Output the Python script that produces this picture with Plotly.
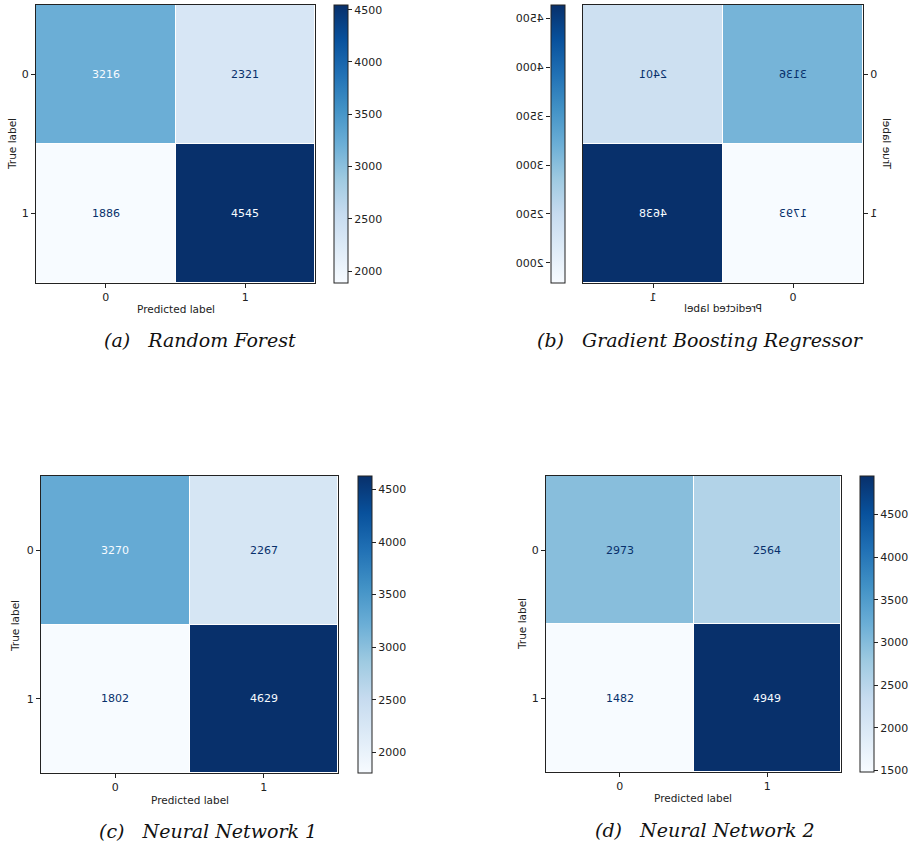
import plotly.graph_objects as go
import plotly.express as px

# Confusion matrices (rows: true label, columns: predicted label)
labels = ["0", "1"]
rf_cm = [[3216, 2321], [1886, 4545]]
gbr_cm = [[3136, 2401], [1793, 4638]]
nn1_cm = [[3270, 2267], [1802, 4629]]
nn2_cm = [[2973, 2564], [1482, 4949]]
captions = [
    "(a)\u00a0\u00a0\u00a0Random Forest",
    "(b)\u00a0\u00a0\u00a0Gradient Boosting Regressor",
    "(c)\u00a0\u00a0\u00a0Neural Network 1",
    "(d)\u00a0\u00a0\u00a0Neural Network 2",
]

W, H = 916, 849
BLUES = px.colors.sequential.Blues
DARK, LIGHT = "#08306b", "#f7fbff"
INK = "#222222"
SANS = "DejaVu Sans"


def px_x(a, b):
    return [a / W, b / W]


def px_y(top, bottom):
    return [1 - bottom / H, 1 - top / H]


# pixel boxes: heatmap (x0, x1, y0, y1), colorbar x0, axis-title anchors, caption anchor
panels = [
    dict(cm=rf_cm, box=(36, 315, 5, 283), cb=334, ylab=(12, 144), xlab=(176, 309),
         cap=(200, 340), flip=False),
    dict(cm=gbr_cm, box=(583, 863, 5, 283), cb=551, ylab=(887, 144), xlab=(723, 308),
         cap=(700, 340), flip=True),
    dict(cm=nn1_cm, box=(41, 338, 476, 773), cb=358, ylab=(15, 626), xlab=(190, 800),
         cap=(208, 831), flip=False),
    dict(cm=nn2_cm, box=(546, 841, 476, 772), cb=860, ylab=(522, 624), xlab=(693, 798),
         cap=(705, 830), flip=False),
]

fig = go.Figure()
annotations = []

for i, p in enumerate(panels):
    n = i + 1
    xa, ya = ("x" if n == 1 else f"x{n}"), ("y" if n == 1 else f"y{n}")
    x0, x1, y0, y1 = p["box"]
    cm = p["cm"]
    flat = [v for row in cm for v in row]
    zmin, zmax = min(flat), max(flat)
    thresh = (zmin + zmax) / 2

    fig.add_trace(go.Heatmap(
        z=cm, x=[0, 1], y=[0, 1], xaxis=xa, yaxis=ya,
        colorscale=BLUES, zmin=zmin, zmax=zmax, xgap=1, ygap=1,
        hoverinfo="skip",
        colorbar=dict(
            x=p["cb"] / W, xanchor="left", xpad=0, ypad=0,
            y=1 - (y0 + y1) / 2 / H, yanchor="middle",
            len=(y1 - y0) / H, lenmode="fraction",
            thickness=14, thicknessmode="pixels",
            outlinewidth=1, outlinecolor=INK,
            tick0=0, dtick=500,
            ticks="" if p["flip"] else "outside", ticklen=4, tickwidth=1, tickcolor=INK,
            showticklabels=not p["flip"],
            tickfont=dict(family=SANS, size=11, color=INK),
        ),
    ))

    axis_common = dict(
        showline=True, mirror=True, linecolor=INK, linewidth=1,
        ticks="outside", ticklen=4, tickwidth=1, tickcolor=INK,
        showgrid=False, zeroline=False, fixedrange=True,
        tickmode="array", tickvals=[0, 1], ticktext=labels,
        tickfont=dict(family=SANS, size=11, color=INK),
    )
    fig.update_layout(**{
        ("xaxis" if n == 1 else f"xaxis{n}"): dict(
            axis_common, domain=px_x(x0, x1), anchor=ya,
            range=[1.5, -0.5] if p["flip"] else [-0.5, 1.5]),
        ("yaxis" if n == 1 else f"yaxis{n}"): dict(
            axis_common, domain=px_y(y0, y1), anchor=xa, range=[1.5, -0.5],
            side="right" if p["flip"] else "left"),
    })

    tag = "mirror" if p["flip"] else None
    # cell counts
    for r in range(2):
        for c in range(2):
            v = cm[r][c]
            annotations.append(dict(
                x=c, y=r, xref=xa, yref=ya, text=str(v), showarrow=False,
                font=dict(family=SANS, size=11, color=LIGHT if v > thresh else DARK),
                name=tag,
            ))
    # axis titles
    annotations.append(dict(
        x=p["ylab"][0] / W, y=1 - p["ylab"][1] / H, xref="paper", yref="paper",
        text="True label", textangle=-90, showarrow=False,
        xanchor="center", yanchor="middle",
        font=dict(family=SANS, size=10.5, color=INK), name=tag,
    ))
    annotations.append(dict(
        x=p["xlab"][0] / W, y=1 - p["xlab"][1] / H, xref="paper", yref="paper",
        text="Predicted label", showarrow=False,
        xanchor="center", yanchor="middle",
        font=dict(family=SANS, size=10.5, color=INK), name=tag,
    ))
    # caption
    annotations.append(dict(
        x=p["cap"][0] / W, y=1 - p["cap"][1] / H, xref="paper", yref="paper",
        text=f"<i>{captions[i]}</i>", showarrow=False,
        xanchor="center", yanchor="middle",
        font=dict(family="DejaVu Serif", size=19, color="#111111"),
    ))

    if p["flip"]:
        # tick labels for the left-hand colour bar of panel (b)
        cbx0 = p["cb"]
        fig.add_trace(go.Scatter(
            x=[0.5] * len(flat), y=flat, xaxis="x5", yaxis="y5",
            mode="markers", marker=dict(opacity=0), hoverinfo="skip", showlegend=False,
        ))
        fig.update_layout(
            xaxis5=dict(domain=px_x(cbx0, cbx0 + 14), anchor="y5", range=[0, 1],
                        visible=False, fixedrange=True),
            yaxis5=dict(domain=px_y(y0, y1), anchor="x5", range=[zmin, zmax],
                        side="left", tick0=0, dtick=500, ticks="outside", ticklen=4,
                        tickwidth=1, tickcolor=INK, showline=False, showgrid=False,
                        zeroline=False, fixedrange=True,
                        tickfont=dict(family=SANS, size=11, color=INK)),
        )

fig.update_layout(
    width=W, height=H, margin=dict(l=0, r=0, t=0, b=0),
    paper_bgcolor="white", plot_bgcolor="white",
    template="none", showlegend=False,
    font=dict(family=SANS, color=INK),
    annotations=annotations,
)

# panel (b) is shown mirrored left-to-right, including its text
mirror_js = """
var gd = document.getElementById('{plot_id}');
function mirror(el) {
  if (!el) return;
  var r = el.getBoundingClientRect();
  var cx = r.left + r.width / 2;
  var P = DOMMatrix.fromMatrix(el.parentNode.getScreenCTM());
  var F = new DOMMatrix([-1, 0, 0, 1, 2 * cx, 0]);
  var M = P.inverse().multiply(F).multiply(P);
  var t = el.getAttribute('transform') || '';
  el.setAttribute('transform', 'matrix(' + [M.a, M.b, M.c, M.d, M.e, M.f].join(',') + ') ' + t);
}
gd.querySelectorAll('.x2tick text, .y2tick text, .y5tick text').forEach(mirror);
(gd.layout.annotations || []).forEach(function (a, i) {
  if (a.name === 'mirror') {
    mirror(gd.querySelector('.annotation[data-index="' + i + '"] text'));
  }
});
"""

fig.write_html("out.html", post_script=mirror_js,
               config={"displayModeBar": False, "staticPlot": True})
